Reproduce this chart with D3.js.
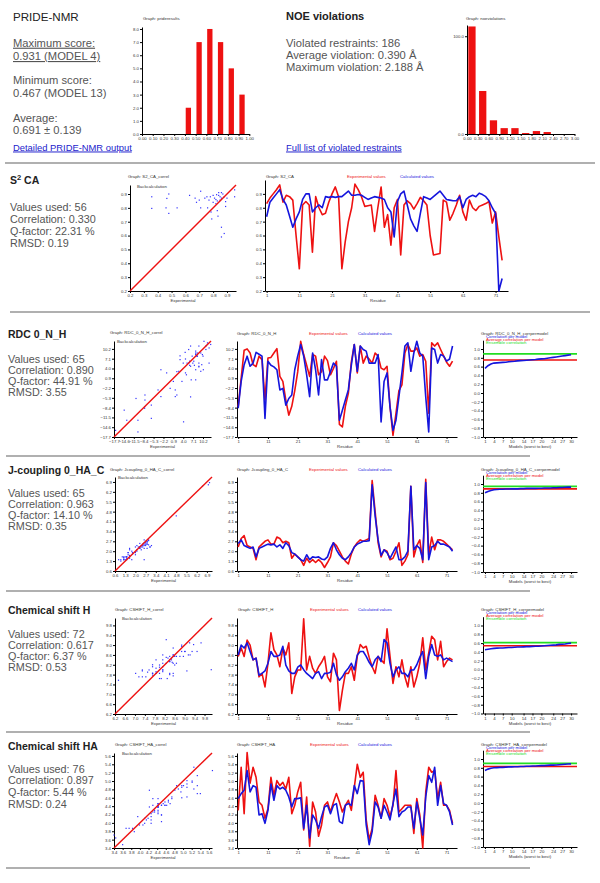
<!DOCTYPE html>
<html><head><meta charset="utf-8">
<script src="https://cdn.jsdelivr.net/npm/d3@7"></script>
<style>html,body{margin:0;padding:0;background:#fff;}svg{display:block;}</style>
</head><body><svg id="c" width="600" height="883"></svg>
<script>
// ---------------- DATA ----------------
const prideBinStart=[0,0.1,0.2,0.3,0.4,0.5,0.6,0.7,0.8,0.9];
const prideCounts=[0,0,0,0,2,7,8,7,5,3];
const prideXTicks=[0,0.1,0.2,0.3,0.4,0.5,0.6,0.7,0.8,0.9,1.0];
const prideYTicks=[0,1,2,3,4,5,6,7,8];
const noeBinStart=[0,0.3,0.6,0.9,1.2,1.5,1.8,2.1,2.4,2.7];
const noeCounts=[110,44,14,6,6,1,3,2,0,0];
const noeXTicks=[0,0.3,0.6,0.9,1.2,1.5,1.8,2.1,2.4,2.7,3.0];
const noeYTicks=[0,100];

const residueTicks=[1,11,21,31,41,51,61,71];
const modelTicks=[1,4,7,10,14,17,20,24,27,30];
const corrTicks=[-1,-0.8,-0.6,-0.4,-0.2,0,0.2,0.4,0.6,0.8,1.0];

const s2Ticks=[0.2,0.3,0.4,0.5,0.6,0.7,0.8,0.9];
const s2Exp=[0.83,0.87,0.90,0.93,0.965,0.84,0.89,0.88,0.855,0.60,0.36,0.82,0.845,0.82,0.48,0.88,0.80,0.75,0.76,0.84,0.90,0.95,0.88,0.36,0.55,0.70,0.80,0.97,0.93,0.88,0.81,0.815,0.82,0.63,0.80,0.95,0.66,0.75,0.53,0.80,0.86,0.46,0.82,0.85,0.83,0.79,0.83,0.875,0.85,0.82,0.60,0.46,0.465,0.47,0.855,0.84,0.71,0.76,0.82,0.89,0.77,0.71,0.855,0.80,0.78,0.81,0.82,0.83,0.845,0.69,0.77,0.59,0.42];
const s2Calc=[0.735,0.84,0.87,0.90,0.93,0.86,0.82,0.74,0.66,0.72,0.77,0.86,0.90,0.90,0.77,0.80,0.82,0.80,0.88,0.875,0.88,0.875,0.88,0.88,0.90,0.92,0.89,0.89,0.895,0.89,0.875,0.86,0.87,0.88,0.875,0.87,0.86,0.80,0.77,0.59,0.845,0.90,0.92,0.82,0.72,0.67,0.63,0.76,0.88,0.87,0.86,0.88,0.90,0.92,0.89,0.86,0.855,0.85,0.85,0.88,0.80,0.86,0.88,0.89,0.88,0.905,0.895,0.88,0.85,0.80,0.76,0.20,0.29];
const s2ScatExp=[0.357,0.357,0.466,0.48,0.46,0.48,0.54,0.63,0.67,0.71,0.70,0.71,0.755,0.77,0.76,0.785,0.79,0.80,0.81,0.82,0.825,0.83,0.835,0.84,0.85,0.86,0.85,0.86,0.86,0.88,0.89,0.89,0.90,0.955,0.955,0.78,0.82,0.84,0.86,0.87,0.83,0.88,0.74,0.68,0.80];
const s2ScatCalc=[0.88,0.796,0.868,0.90,0.80,0.76,0.80,0.89,0.87,0.92,0.856,0.80,0.88,0.856,0.80,0.77,0.72,0.89,0.87,0.83,0.895,0.78,0.74,0.91,0.88,0.91,0.856,0.66,0.59,0.615,0.845,0.81,0.87,0.93,0.88,0.88,0.86,0.89,0.87,0.90,0.85,0.88,0.87,0.84,0.84];

const rdcTicks=[-17.7,-14.6,-11.5,-8.4,-5.3,-2.2,0.9,4.0,7.1,10.2];
const rdcExp=[-8.1,0.9,9.8,10.2,8.9,5.2,4.6,7.9,6.8,-6,7.3,7.5,8.9,10.3,1.5,-0.1,-6,-10.8,-8,-3,3,12.6,8.4,5,1.5,8.4,7.9,2,3,7.9,6.5,2,4,6.3,-13.7,-14.5,-8,-3.9,6,11.6,2.6,11.1,5.7,7.9,7,5.7,8.9,7.9,4.1,3.6,4.7,-8.1,-17.2,-10.2,-3,-1.2,8.9,11.6,9.5,9.5,10.5,7.9,8.4,6.3,-10.2,12.1,11.1,12.1,10,8,6,4.7,6.3];
const rdcCalc=[-8.6,-0.1,5.2,7.9,4.7,5.7,9.1,8.5,7.9,-11.8,6.3,5,4.5,3.6,-2.8,-2.3,-7.6,-5.5,-4.4,3.6,8,11.6,7.9,2,-4.9,8.9,3.6,-4.4,6.8,0.4,0.4,3,5.7,4.7,-12.4,-9.2,-6,-2.8,5,11.6,3.1,11.1,10,9.5,5.7,5.7,5.7,8.4,-12.9,-0.1,2.6,-8.1,-15.6,-12.4,-4.9,2.6,11.1,12.1,3.1,8.9,12.6,8.9,7.9,-5,-16.1,10.5,10,5.7,8.4,7.9,6.3,7,11.1];
const rdcModelCorr=[0.56,0.62,0.66,0.68,0.685,0.69,0.695,0.70,0.71,0.715,0.72,0.73,0.735,0.74,0.745,0.75,0.755,0.76,0.77,0.775,0.78,0.79,0.80,0.81,0.82,0.83,0.84,0.85,0.86,0.87];
const rdcAvgCorr=0.75, rdcEnsCorr=0.89;

const jTicks=[0.6,1.3,2.0,2.7,3.4,4.1,4.8,5.5,6.2,6.9];
const jExp=[2.3,2.9,3.1,2.4,2.3,2.2,1.4,2.3,2.5,2.7,2.8,2.5,2.5,3.0,2.9,2.6,2.7,2.6,1.5,1.8,1.6,1.4,1.0,1.5,1.2,1.4,1.2,1.4,1.2,0.85,1.2,1.6,2.6,2.4,2.0,1.6,1.3,1.1,1.8,2.3,2.6,2.8,2.7,2.8,2.9,7.0,4.8,2.6,1.6,2.1,2.0,1.4,1.5,2.0,2.6,1.0,1.3,1.75,6.6,1.6,2.4,2.8,1.2,7.08,1.75,3.0,2.1,2.8,2.8,2.7,2.5,2.3,2.1];
const jCalc=[2.55,2.8,2.4,2.3,2.2,2.3,1.6,2.2,2.3,2.4,2.5,2.45,2.5,2.3,2.45,2.2,2.6,2.4,1.9,1.8,1.6,1.4,1.3,1.75,1.4,1.6,1.55,1.6,1.45,1.4,1.6,2.2,2.6,2.1,1.75,1.5,1.4,1.6,1.9,2.3,2.5,2.6,2.7,2.7,2.75,6.7,4.5,2.8,1.7,2.1,1.9,1.5,1.9,2.3,1.4,1.4,1.6,2.0,6.6,2.1,2.4,2.2,1.4,6.85,1.4,2.3,2.4,2.7,2.5,2.5,2.4,2.3,2.0];
const jModelCorr=[0.80,0.83,0.85,0.87,0.875,0.88,0.88,0.885,0.885,0.89,0.89,0.89,0.895,0.895,0.90,0.90,0.90,0.90,0.905,0.905,0.91,0.91,0.91,0.915,0.915,0.92,0.92,0.925,0.93,0.93];
const jAvgCorr=0.89, jEnsCorr=0.945;

const csHTicks=[6.2,6.6,7.0,7.4,7.8,8.2,8.6,9.0,9.4,9.8];
const csHExp=[8.54,8.88,8.54,9.2,9.0,8.4,8.47,7.71,7.85,7.3,8.26,9.5,8.81,8.6,8.12,8.88,8.6,9.09,7.03,7.71,7.99,7.99,10.07,7.99,8.54,8.06,7.85,8.12,8.3,8.54,7.71,7.51,8.67,8.4,6.34,7.16,7.85,7.85,8.12,7.57,8.54,9.02,8.88,8.95,8.5,8.12,7.85,8.54,8.4,8.26,9.66,8.54,7.44,8.12,7.71,8.4,7.71,7.3,8.12,7.3,7.71,8.26,9.3,7.99,8.67,9.36,9.22,8.4,9.15,8.12,8.33,8.47,8.4];
const csHCalc=[8.6,9.0,8.88,9.09,8.74,8.4,8.47,7.78,7.85,7.95,8.26,8.74,8.54,8.54,8.6,8.95,8.19,7.95,7.85,7.85,8.1,8.19,8.0,7.85,7.75,7.64,7.85,7.92,7.64,7.85,7.85,7.9,8.26,7.8,7.57,7.71,7.92,8.06,8.26,7.99,8.6,8.74,8.74,8.54,8.3,8.12,8.4,8.54,8.33,9.22,9.09,8.26,7.71,7.99,8.12,7.85,7.85,7.71,7.99,7.99,8.2,8.5,8.74,7.64,8.54,9.02,8.6,8.54,8.6,8.4,8.47,8.4,8.33];
const csHModelCorr=[0.45,0.46,0.47,0.48,0.485,0.49,0.49,0.495,0.50,0.50,0.505,0.51,0.51,0.515,0.52,0.52,0.525,0.53,0.53,0.535,0.54,0.545,0.55,0.555,0.56,0.57,0.575,0.58,0.59,0.60];
const csHAvgCorr=0.54, csHEnsCorr=0.61;

const csHATicks=[3.4,3.6,3.8,4.0,4.2,4.4,4.6,4.8,5.0,5.2,5.4,5.6];
const csHAExp=[4.3,5.33,4.22,5.68,4.95,5.33,5.09,4.5,4.42,4.11,4.34,5.09,4.66,5.01,4.89,4.97,4.81,5.09,4.22,4.42,4.74,4.97,3.83,4.62,3.44,4.5,4.26,3.68,3.95,4.42,4.5,4.26,4.5,4.7,4.5,4.26,4.42,4.54,4.3,4.85,5.4,5.09,5.21,4.07,3.6,3.87,4.66,4.42,4.11,4.58,4.42,4.15,4.42,5.25,4.26,4.34,4.42,4.42,4.42,3.75,4.58,4.19,3.4,4.74,5.33,5.21,5.25,4.58,4.97,4.42,4.42,4.3,3.99];
const csHACalc=[4.58,4.7,4.78,5.25,4.74,4.89,4.85,4.19,4.22,3.99,4.3,4.93,4.54,4.89,4.81,4.85,4.78,4.62,4.38,4.58,4.58,4.6,3.87,4.42,3.64,4.19,4.07,3.87,4.15,4.38,4.42,4.22,4.42,4.46,4.03,3.99,4.42,4.46,4.42,4.89,4.7,5.01,5.0,3.95,3.48,3.79,4.5,4.38,4.11,4.42,4.26,4.07,4.46,4.81,4.15,4.26,4.3,4.38,4.38,3.87,4.5,4.11,3.71,4.62,5.13,4.97,5.33,4.42,4.89,4.46,4.42,4.26,3.95];
const csHAModelCorr=[0.74,0.77,0.79,0.80,0.805,0.81,0.81,0.815,0.82,0.82,0.825,0.825,0.83,0.83,0.835,0.835,0.84,0.84,0.845,0.85,0.85,0.855,0.86,0.86,0.865,0.87,0.875,0.88,0.885,0.89];
const csHAAvgCorr=0.83, csHAEnsCorr=0.90;

// ---------------- DRAWING ----------------
const svg=d3.select("#c");
svg.append("rect").attr("width",600).attr("height",883).attr("fill","#fff");
const F="'Liberation Sans', Arial, sans-serif";
const TINY=4.3;
const RED="#ee1111", BLUE="#1515dd", GREEN="#22dd22";

function txt(x,y,s,o={}){
  const t=svg.append("text").attr("x",x).attr("y",y).text(s)
    .attr("font-family",o.family||F).attr("font-size",o.size||10.8)
    .attr("fill",o.fill||"#555");
  if(o.weight)t.attr("font-weight",o.weight);
  if(o.anchor)t.attr("text-anchor",o.anchor);
  if(o.deco)t.attr("text-decoration",o.deco);
  return t;
}
function tiny(x,y,s,fill,anchor){return txt(x,y,s,{size:TINY,fill:fill||"#333",anchor:anchor});}
function axisStyle(g){
  g.attr("font-family",F).attr("font-size",TINY);
  g.select(".domain").attr("stroke","#000").attr("stroke-width",1);
  g.selectAll(".tick line").attr("stroke","#000");
  g.selectAll(".tick text").attr("fill","#333");
}
function leftAxis(scale,x,ticks,fmt){
  svg.append("g").attr("transform",`translate(${x},0)`)
    .call(d3.axisLeft(scale).tickValues(ticks).tickFormat(d3.format(fmt)).tickSize(2).tickSizeOuter(0).tickPadding(1))
    .call(axisStyle);
}
function bottomAxis(scale,y,ticks,fmt){
  svg.append("g").attr("transform",`translate(0,${y})`)
    .call(d3.axisBottom(scale).tickValues(ticks).tickFormat(typeof fmt==="string"?d3.format(fmt):fmt).tickSize(2).tickSizeOuter(0).tickPadding(1))
    .call(axisStyle);
}

// separators
[[163,5,595],[312,10,590],[456,6,530],[591,6,530],[732,6,530],[868,6,530]].forEach(s=>{
  svg.append("line").attr("x1",s[1]).attr("x2",s[2]).attr("y1",s[0]).attr("y2",s[0]).attr("stroke","#b0b0b0").attr("stroke-width",2);
});

// ---- top-left text ----
txt(13,21,"PRIDE-NMR",{size:11.6,fill:"#222"});
txt(13,46.7,"Maximum score:",{size:11.2,deco:"underline"});
txt(13,60,"0.931 (MODEL 4)",{size:11.2,deco:"underline"});
txt(13,84.3,"Minimum score:",{size:11.2});
txt(13,97,"0.467 (MODEL 13)",{size:11.2});
txt(13,121.7,"Average:",{size:11.2});
txt(13,134.3,"0.691 \u00b1 0.139",{size:11.2});
txt(13,150.5,"Detailed PRIDE-NMR output",{size:9.4,fill:"#1a1acc",deco:"underline"});

txt(286,20,"NOE violations",{size:11,fill:"#222",weight:"bold"});
txt(286,46.7,"Violated restraints: 186",{size:11.2});
txt(286,58.5,"Average violation: 0.390 \u00c5",{size:11.2});
txt(286,70.5,"Maximum violation: 2.188 \u00c5",{size:11.2});
txt(286,150.5,"Full list of violated restraints",{size:9.4,fill:"#1a1acc",deco:"underline"});

// ---- histograms ----
function histogram(c){
  const x=d3.scaleLinear().domain(c.xDomain).range(c.xRange);
  const y=d3.scaleLinear().domain(c.yDomain).range(c.yRange);
  svg.append("g").selectAll("rect").data(c.counts).join("rect")
    .attr("x",(d,i)=>x(c.starts[i])+c.barOff).attr("width",c.barW)
    .attr("y",d=>y(d)).attr("height",d=>y(0)-y(d)).attr("fill",RED);
  bottomAxis(x,c.yRange[0],c.xTicks,".2f");
  leftAxis(y,c.xRange[0],c.yTicks,".1f");
  tiny(c.titleX,c.titleY,c.title);
}
histogram({starts:prideBinStart,counts:prideCounts,xDomain:[0,1],xRange:[142,249.3],yDomain:[0,8.15],yRange:[134,27],
  barOff:0.8,barW:5.3,xTicks:prideXTicks,yTicks:prideYTicks,title:"Graph: prideresults",titleX:143,titleY:20});
histogram({starts:noeBinStart,counts:noeCounts,xDomain:[0,3],xRange:[467,574.5],yDomain:[0,111.5],yRange:[134,25],
  barOff:1.3,barW:7.3,xTicks:noeXTicks,yTicks:noeYTicks,title:"Graph: noeviolations",titleX:466,titleY:20});

// ---- row helpers ----
function rowText(x,titleY,title,statsY,stats){
  if(Array.isArray(title)){
    const t=txt(x,titleY,"",{size:10.5,fill:"#222",weight:"bold"});
    t.append("tspan").text(title[0]);
    t.append("tspan").text(title[1]).attr("font-size",7.5).attr("dy",-4);
    t.append("tspan").text(title[2]).attr("dy",4);
  } else txt(x,titleY,title,{size:10.5,fill:"#222",weight:"bold"});
  stats.forEach((s,i)=>txt(x,statsY[i],s,{size:10.8}));
}
function scatter(c){
  const x=d3.scaleLinear().domain(c.domain).range(c.xr);
  const y=d3.scaleLinear().domain(c.domain).range(c.yr);
  bottomAxis(x,c.yr[0],c.ticks,".1f");
  leftAxis(y,c.xr[0],c.ticks,".1f");
  svg.append("g").selectAll("rect").data(c.ex.map((v,i)=>[v,c.ca[i]])).join("rect")
    .attr("x",d=>x(d[0])-0.6).attr("y",d=>y(d[1])-0.6).attr("width",1.2).attr("height",1.2).attr("fill","#3333ff");
  svg.append("line").attr("x1",x(c.domain[0])).attr("y1",y(c.domain[0])).attr("x2",x(c.domain[1])).attr("y2",y(c.domain[1]))
    .attr("stroke",RED).attr("stroke-width",1.4);
  tiny(c.title[0],c.title[1],c.title[2]);
  tiny(c.bc[0],c.bc[1],"Backcalculation");
  tiny((c.xr[0]+c.xr[1])/2,c.yr[0]+11,"Experimental","#333","middle");
}
function lineChart(c){
  const x=d3.scaleLinear().domain(c.xDomain).range(c.xRange);
  const y=d3.scaleLinear().domain(c.yDomain).range(c.yRange);
  bottomAxis(x,c.yRange[0],residueTicks,"d");
  leftAxis(y,c.xRange[0],c.yTicks,".1f");
  const ln=d3.line().x((d,i)=>x(i+1)).y(d=>y(d));
  svg.append("path").attr("d",ln(c.exp)).attr("fill","none").attr("stroke",RED).attr("stroke-width",1.6).attr("stroke-linejoin","round");
  svg.append("path").attr("d",ln(c.calc)).attr("fill","none").attr("stroke",BLUE).attr("stroke-width",1.6).attr("stroke-linejoin","round");
  tiny(c.title[0],c.title[1],c.title[2]);
  tiny(c.leg[0],c.title[1],"Experimental values",RED);
  tiny(c.leg[1],c.title[1],"Calculated values",BLUE);
  tiny(c.resX,c.yRange[0]+11,"Residue","#333","middle");
}
function modelChart(c){
  const b=c.bottom;
  const x=d3.scaleLinear().domain([0.33,32]).range([483,577]);
  const y=d3.scaleLinear().domain([-1,1.2]).range([b,b-96.8]);
  bottomAxis(x,b,modelTicks,"d");
  leftAxis(y,483,corrTicks,".1f");
  svg.append("line").attr("x1",483).attr("x2",577).attr("y1",y(c.ens)).attr("y2",y(c.ens)).attr("stroke",GREEN).attr("stroke-width",1.8);
  svg.append("line").attr("x1",483).attr("x2",577).attr("y1",y(c.avg)).attr("y2",y(c.avg)).attr("stroke",RED).attr("stroke-width",1.6);
  const ln=d3.line().x((d,i)=>x(i+1)).y(d=>y(d));
  svg.append("path").attr("d",ln(c.corr)).attr("fill","none").attr("stroke",BLUE).attr("stroke-width",1.6);
  tiny(481,c.titleY,c.title);
  tiny(486,c.titleY+3.3,"Correlation per model",BLUE);
  tiny(486,c.titleY+6.6,"Average correlation per model",RED);
  tiny(486,c.titleY+9.9,"Ensemble correlation",GREEN);
  tiny(530,b+11,"Models (worst to best)","#333","middle");
}

// ---- Row: S2 CA ----
rowText(10,184,["S","2"," CA"],[211,223,235,247],["Values used: 56","Correlation: 0.330","Q-factor: 22.31 %","RMSD: 0.19"]);
scatter({ex:s2ScatExp,ca:s2ScatCalc,domain:[0.2,0.965],xr:[130,236],yr:[291,185],ticks:s2Ticks,
  title:[128,177.5,"Graph: S2_CA_correl"],bc:[137,188]});
lineChart({exp:s2Exp,calc:s2Calc,xDomain:[0.5,74.8],xRange:[265,508],yDomain:[0.2,1.0],yRange:[291,180],yTicks:s2Ticks,
  title:[266,177.5,"Graph: S2_CA"],leg:[347,400],resX:378});

// ---- Row: RDC ----
rowText(8,338,"RDC 0_N_H",[362.5,373.5,384.5,395.5],["Values used: 65","Correlation: 0.890","Q-factor: 44.91 %","RMSD: 3.55"]);
scatter({ex:rdcExp,ca:rdcCalc,domain:[-17.7,12.7],xr:[114,211],yr:[437,341],ticks:rdcTicks,
  title:[110,333.5,"Graph: RDC_0_N_H_correl"],bc:[117,343]});
lineChart({exp:rdcExp,calc:rdcCalc,xDomain:[0.6,74.5],xRange:[237,457],yDomain:[-17.7,12.7],yRange:[437,341],yTicks:rdcTicks,
  title:[237,334.5,"Graph: RDC_0_N_H"],leg:[309,358],resX:345});
modelChart({corr:rdcModelCorr,avg:rdcAvgCorr,ens:rdcEnsCorr,bottom:437,titleY:334.5,title:"Graph: RDC_0_N_H_corrpermodel"});

// ---- Row: J-coupling ----
rowText(8,474,"J-coupling 0_HA_C",[496.7,507.7,518.7,529.7],["Values used: 65","Correlation: 0.963","Q-factor: 14.10 %","RMSD: 0.35"]);
scatter({ex:jExp,ca:jCalc,domain:[0.6,7.25],xr:[115,212],yr:[571,477],ticks:jTicks,
  title:[110,470.5,"Graph: Jcoupling_0_HA_C_correl"],bc:[118,479]});
lineChart({exp:jExp,calc:jCalc,xDomain:[0.6,74.5],xRange:[237,457],yDomain:[0.6,7.25],yRange:[571,477],yTicks:jTicks,
  title:[237,470.5,"Graph: Jcoupling_0_HA_C"],leg:[309,358],resX:345});
modelChart({corr:jModelCorr,avg:jAvgCorr,ens:jEnsCorr,bottom:572,titleY:470.5,title:"Graph: Jcoupling_0_HA_C_corrpermodel"});

// ---- Row: Chemical shift H ----
rowText(8,614,"Chemical shift H",[638.3,649.3,660.3,671.3],["Values used: 72","Correlation: 0.617","Q-factor: 6.37 %","RMSD: 0.53"]);
scatter({ex:csHExp,ca:csHCalc,domain:[6.2,10.1],xr:[115,212],yr:[714,618],ticks:csHTicks,
  title:[115,610.5,"Graph: CSHIFT_H_correl"],bc:[122,620]});
lineChart({exp:csHExp,calc:csHCalc,xDomain:[0.6,74.5],xRange:[237,457],yDomain:[6.2,10.1],yRange:[714,618],yTicks:csHTicks,
  title:[238,610.5,"Graph: CSHIFT_H"],leg:[310,358],resX:345});
modelChart({corr:csHModelCorr,avg:csHAvgCorr,ens:csHEnsCorr,bottom:713.5,titleY:610.5,title:"Graph: CSHIFT_H_corrpermodel"});

// ---- Row: Chemical shift HA ----
rowText(8,750,"Chemical shift HA",[772.7,784.3,796,807.5],["Values used: 76","Correlation: 0.897","Q-factor: 5.44 %","RMSD: 0.24"]);
scatter({ex:csHAExp,ca:csHACalc,domain:[3.4,5.67],xr:[114,212],yr:[848,753],ticks:csHATicks,
  title:[115,745.5,"Graph: CSHIFT_HA_correl"],bc:[122,755]});
lineChart({exp:csHAExp,calc:csHACalc,xDomain:[0.6,74.5],xRange:[237,457],yDomain:[3.4,5.67],yRange:[848,753],yTicks:csHATicks,
  title:[237,745.5,"Graph: CSHIFT_HA"],leg:[310,358],resX:342});
modelChart({corr:csHAModelCorr,avg:csHAAvgCorr,ens:csHAEnsCorr,bottom:847,titleY:745.5,title:"Graph: CSHIFT_HA_corrpermodel"});
</script>
</body></html>
